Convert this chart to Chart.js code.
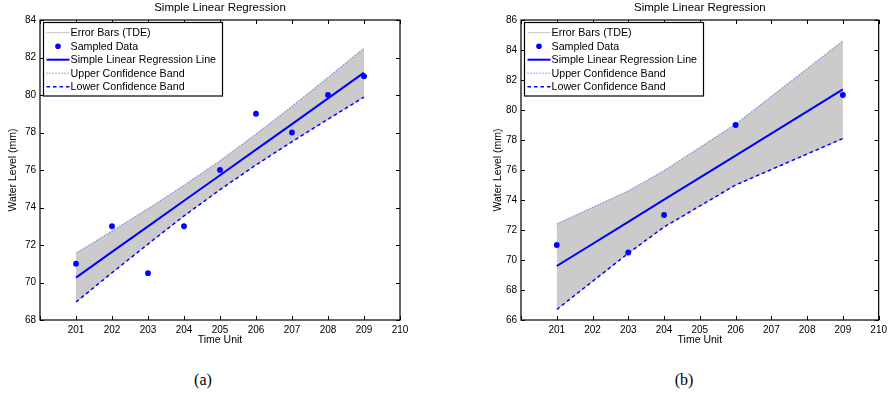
<!DOCTYPE html>
<html>
<head>
<meta charset="utf-8">
<script src="https://cdn.jsdelivr.net/npm/chart.js@4.4.1/dist/chart.umd.min.js"></script>
<style>
  body { margin: 0; background: #fff; width: 891px; height: 401px; position: relative; overflow: hidden; }
  canvas { position: absolute; top: 0; }
  #chartA { left: 0; }
  #chartB { left: 445px; }
  .caption { position: absolute; top: 371px; font: 16px "Liberation Serif", "DejaVu Serif", serif; color: #000; transform: translateX(-50%); }
</style>
</head>
<body>
<canvas id="chartA" width="445" height="360"></canvas>
<canvas id="chartB" width="446" height="360"></canvas>
<div class="caption" style="left:203px">(a)</div>
<div class="caption" style="left:684px">(b)</div>
<script>
// Panel (a): all nine samples
const timeA = [201, 202, 203, 204, 205, 206, 207, 208, 209];
const levelA = [71, 73, 70.5, 73, 76, 79, 78, 80, 81];
const fitA = [70.26, 71.63, 72.99, 74.36, 75.72, 77.09, 78.45, 79.82, 81.19];
const upperA = [71.56, 72.74, 73.93, 75.18, 76.49, 77.91, 79.39, 80.93, 82.49];
const lowerA = [68.96, 70.52, 72.05, 73.55, 74.95, 76.27, 77.51, 78.71, 79.89];

// Panel (b): five samples
const timeB = [201, 203, 204, 206, 209];
const levelB = [71, 70.5, 73, 79, 81];
const fitB = [69.6, 72.54, 74.02, 76.96, 81.38];
const upperB = [72.4, 74.6, 75.95, 79.05, 84.6];
const lowerB = [66.7, 70.45, 72.2, 75.0, 78.1];

const xTicks = [200, 201, 202, 203, 204, 205, 206, 207, 208, 209, 210];
const legendLabels = ['Error Bars (TDE)', 'Sampled Data', 'Simple Linear Regression Line', 'Upper Confidence Band', 'Lower Confidence Band'];

const BLUE = '#0000ff';
const LIGHT_BLUE = '#8585ff';
const BAND = '#cbcbcb';
const SANS = '"Liberation Sans", Arial, Helvetica, sans-serif';

function pts(xs, ys) {
  return xs.map((x, i) => ({ x: x, y: ys[i] }));
}

// Box, inward ticks, title and legend like the MATLAB figure
const matlabFrame = {
  id: 'matlabFrame',
  afterDraw(chart) {
    const ctx = chart.ctx;
    const a = chart.chartArea;
    const xs = chart.scales.x, ys = chart.scales.y;
    ctx.save();
    ctx.strokeStyle = '#000';
    ctx.lineWidth = 1.2;
    ctx.strokeRect(a.left, a.top, a.right - a.left, a.bottom - a.top);
    ctx.lineWidth = 1;
    ctx.beginPath();
    xs.ticks.forEach(t => {
      const px = Math.round(xs.getPixelForValue(t.value)) + 0.5;
      ctx.moveTo(px, a.bottom); ctx.lineTo(px, a.bottom - 4);
      ctx.moveTo(px, a.top); ctx.lineTo(px, a.top + 4);
    });
    ys.ticks.forEach(t => {
      const py = Math.round(ys.getPixelForValue(t.value)) + 0.5;
      ctx.moveTo(a.left, py); ctx.lineTo(a.left + 4, py);
      ctx.moveTo(a.right, py); ctx.lineTo(a.right - 4, py);
    });
    ctx.stroke();

    // title
    ctx.fillStyle = '#000';
    ctx.font = '11.5px ' + SANS;
    ctx.textAlign = 'center';
    ctx.textBaseline = 'middle';
    ctx.fillText('Simple Linear Regression', (a.left + a.right) / 2, 8);

    // legend
    const bx = a.left + 3.5, by = 22.5, bw = 179, bh = 73.5;
    ctx.fillStyle = '#fff';
    ctx.fillRect(bx, by, bw, bh);
    ctx.strokeStyle = '#000';
    ctx.lineWidth = 1.2;
    ctx.strokeRect(bx, by, bw, bh);
    ctx.font = '10.7px ' + SANS;
    ctx.textAlign = 'left';
    legendLabels.forEach((label, i) => {
      const cy = by + 10.2 + i * 13.5;
      const x0 = bx + 3, x1 = bx + 26;
      ctx.save();
      ctx.beginPath();
      if (i === 0) {
        ctx.strokeStyle = '#c4c4c4'; ctx.lineWidth = 1;
        ctx.moveTo(x0, cy); ctx.lineTo(x1, cy); ctx.stroke();
      } else if (i === 1) {
        ctx.fillStyle = BLUE;
        ctx.arc((x0 + x1) / 2, cy, 2.8, 0, Math.PI * 2); ctx.fill();
      } else if (i === 2) {
        ctx.strokeStyle = BLUE; ctx.lineWidth = 2;
        ctx.moveTo(x0, cy); ctx.lineTo(x1, cy); ctx.stroke();
      } else if (i === 3) {
        ctx.strokeStyle = LIGHT_BLUE; ctx.lineWidth = 1.4; ctx.setLineDash([1, 2]);
        ctx.moveTo(x0, cy); ctx.lineTo(x1, cy); ctx.stroke();
      } else {
        ctx.strokeStyle = BLUE; ctx.lineWidth = 1.5; ctx.setLineDash([3.5, 3]);
        ctx.moveTo(x0, cy); ctx.lineTo(x1, cy); ctx.stroke();
      }
      ctx.restore();
      ctx.fillStyle = '#000';
      ctx.fillText(label, bx + 27, cy + 0.5);
    });
    ctx.restore();
  }
};

function makeChart(id, xs, levels, fit, upper, lower, yMin, yMax, yAxisWidth, rightPad, titlePad) {
  return new Chart(document.getElementById(id), {
    type: 'line',
    data: {
      // higher "order" is drawn first, so the grey band sits underneath
      datasets: [
        { order: 5, data: pts(xs, upper), borderColor: '#c4c4c4', borderWidth: 1, backgroundColor: BAND, fill: '+1', pointRadius: 0 },
        { order: 4, data: pts(xs, lower), borderColor: '#c4c4c4', borderWidth: 1, fill: false, pointRadius: 0 },
        { order: 2, data: pts(xs, fit), borderColor: BLUE, borderWidth: 2, fill: false, pointRadius: 0 },
        { order: 3, data: pts(xs, upper), borderColor: LIGHT_BLUE, borderWidth: 1.4, borderDash: [1, 2], fill: false, pointRadius: 0 },
        { order: 3, data: pts(xs, lower), borderColor: BLUE, borderWidth: 1.5, borderDash: [3.5, 3], fill: false, pointRadius: 0 },
        { order: 0, data: pts(xs, levels), showLine: false, pointRadius: 2.9, pointBackgroundColor: BLUE, pointBorderWidth: 0, borderColor: BLUE }
      ]
    },
    options: {
      responsive: false,
      animation: false,
      devicePixelRatio: 1,
      layout: { padding: { top: 20, right: rightPad, left: 0, bottom: 0 } },
      plugins: { legend: { display: false }, tooltip: { enabled: false } },
      scales: {
        x: {
          type: 'linear', min: 200, max: 210,
          afterBuildTicks: s => { s.ticks = xTicks.map(v => ({ value: v })); },
          afterFit: s => { s.height = 40; },
          grid: { display: false, drawTicks: false },
          border: { display: false },
          ticks: { color: '#000', padding: 4, font: { family: SANS, size: 10 },
                   callback: v => (v === 200 ? '' : v) },
          title: { display: true, text: 'Time Unit', color: '#000', font: { family: SANS, size: 10.5 }, padding: { top: 0, bottom: 13.5 } }
        },
        y: {
          min: yMin, max: yMax,
          afterFit: s => { s.width = yAxisWidth; },
          grid: { display: false, drawTicks: false },
          border: { display: false },
          ticks: { stepSize: 2, color: '#000', padding: 4, font: { family: SANS, size: 10 } },
          title: { display: true, text: 'Water Level (mm)', color: '#000', font: { family: SANS, size: 10.5 },
                   padding: { top: titlePad, bottom: 0 } }
        }
      }
    },
    plugins: [matlabFrame]
  });
}

makeChart('chartA', timeA, levelA, fitA, upperA, lowerA, 68, 84, 40, 45, 6.5);
makeChart('chartB', timeB, levelB, fitB, upperB, lowerB, 66, 86, 76, 9, 46.5);
</script>
</body>
</html>
